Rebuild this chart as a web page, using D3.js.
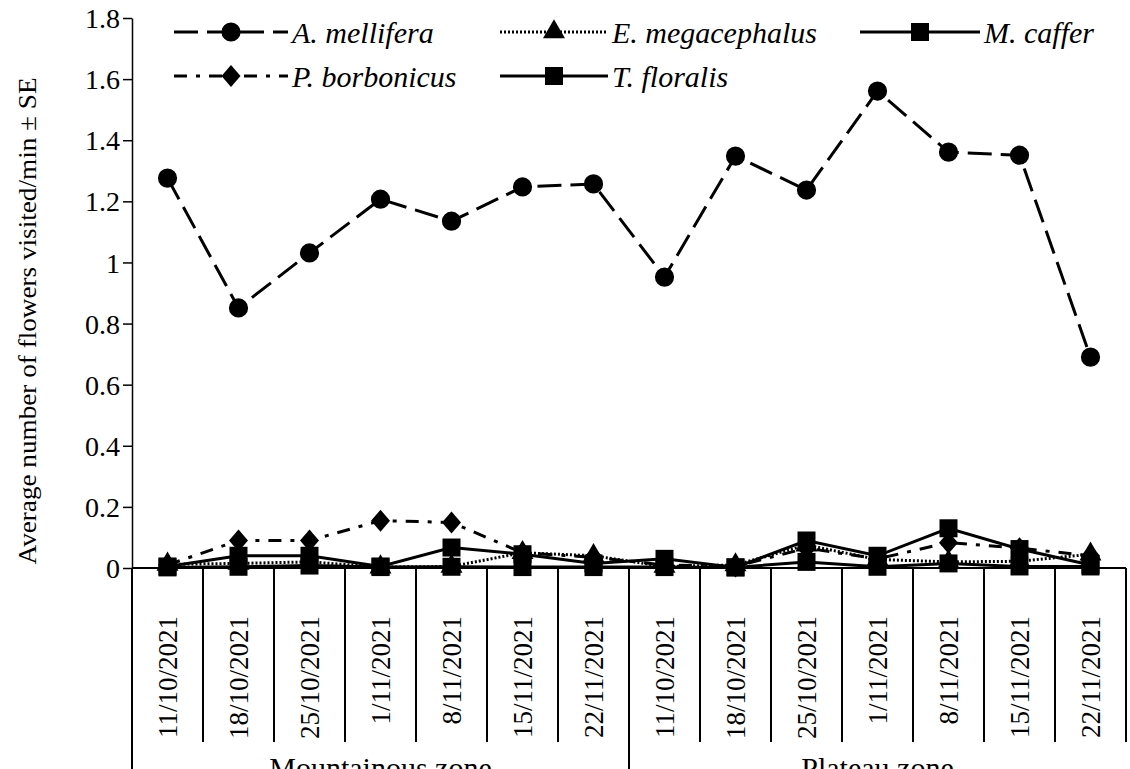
<!DOCTYPE html>
<html>
<head>
<meta charset="utf-8">
<script src="https://cdn.jsdelivr.net/npm/d3@7"></script>
</head>
<body style="margin:0">
<script>
const width = 1130;
const height = 769;
const fontName = "'Liberation Serif', Tinos, serif";

// data
const zones = ["Mountainous zone", "Plateau zone"];
const dates = ["11/10/2021", "18/10/2021", "25/10/2021", "1/11/2021", "8/11/2021", "15/11/2021", "22/11/2021"];
const yTicks = [0, 0.2, 0.4, 0.6, 0.8, 1, 1.2, 1.4, 1.6, 1.8];

const mellifera    = [1.276, 0.851, 1.031, 1.207, 1.135, 1.247, 1.257, 0.952, 1.348, 1.237, 1.561, 1.361, 1.351, 0.690];
const megacephalus = [0.012, 0.015, 0.020, 0.003, 0.005, 0.050, 0.040, 0.005, 0.010, 0.075, 0.028, 0.020, 0.022, 0.045];
const caffer       = [0.002, 0.004, 0.008, 0.003, 0.004, 0.003, 0.003, 0.003, 0.002, 0.020, 0.004, 0.015, 0.005, 0.005];
const borbonicus   = [0.010, 0.090, 0.090, 0.155, 0.149, 0.050, 0.035, 0.010, 0.005, 0.065, 0.030, 0.083, 0.065, 0.040];
const floralis     = [0.005, 0.040, 0.040, 0.005, 0.067, 0.045, 0.015, 0.030, 0.002, 0.090, 0.040, 0.130, 0.062, 0.010];

const speciesNames = ["A. mellifera", "E. megacephalus", "M. caffer", "P. borbonicus", "T. floralis"];

const margin = { top: 18, left: 132, right: 4, bottom: 201 };

// one category per zone/date pair
const cats = [];
zones.forEach((z, zi) => dates.forEach((d, di) => cats.push({ key: zi + "-" + di, zone: z, date: d })));

const series = [
    { name: speciesNames[0], values: mellifera, dash: "24,9", symbol: "circle" },
    { name: speciesNames[1], values: megacephalus, dash: "2,2", symbol: "triangle" },
    { name: speciesNames[2], values: caffer, dash: null, symbol: "square" },
    { name: speciesNames[3], values: borbonicus, dash: "13,9,4,9", symbol: "diamond" },
    { name: speciesNames[4], values: floralis, dash: null, symbol: "square" }
];

const svg = d3.select("body").append("svg")
    .attr("width", width)
    .attr("height", height)
    .style("font-family", fontName);

const xScale = d3.scaleBand()
    .domain(cats.map(d => d.key))
    .range([margin.left, width - margin.right])
    .padding(0);

const yScale = d3.scaleLinear()
    .domain([0, 1.8])
    .range([height - margin.bottom, margin.top]);

const y0 = yScale(0);
const bw = xScale.bandwidth();

// marker shapes
function symbolPath(kind) {
    if (kind === "circle") return d3.symbol(d3.symbolCircle, 290)();
    if (kind === "square") return d3.symbol(d3.symbolSquare, 324)();
    if (kind === "triangle") return d3.symbol(d3.symbolTriangle, 210)();
    return "M0,-11L9.5,0L0,11L-9.5,0Z"; // diamond
}

// y axis, built by d3 but labels written as plain text
const yAxis = d3.axisLeft(yScale)
    .tickValues(yTicks)
    .tickSize(9)
    .tickSizeOuter(0)
    .tickFormat("");

const gy = svg.append("g")
    .attr("class", "y-axis")
    .attr("transform", `translate(${margin.left},0)`)
    .call(yAxis);
gy.select(".domain").attr("stroke", "#000").attr("stroke-width", 1.5);
gy.selectAll(".tick line").attr("stroke", "#000").attr("stroke-width", 1.5);

svg.selectAll("text.ytick")
    .data(yTicks)
    .join("text")
    .attr("class", "ytick")
    .attr("x", margin.left - 12)
    .attr("y", d => yScale(d))
    .attr("dy", "0.36em")
    .attr("text-anchor", "end")
    .style("font-family", fontName)
    .style("font-size", "28px")
    .text(d => String(+d.toFixed(1)));

svg.append("text")
    .attr("transform", `translate(36,${(margin.top + y0) / 2 + 28}) rotate(-90)`)
    .attr("text-anchor", "middle")
    .style("font-family", fontName)
    .style("font-size", "26px")
    .attr("textLength", 487)
    .attr("lengthAdjust", "spacingAndGlyphs")
    .text("Average number of flowers visited/min ± SE");

// category table below the x axis
const table = svg.append("g").attr("class", "x-table");

table.append("line")
    .attr("x1", margin.left).attr("x2", width - margin.right)
    .attr("y1", y0).attr("y2", y0)
    .attr("stroke", "#000").attr("stroke-width", 2);

const sepIdx = d3.range(cats.length + 1);
table.selectAll("line.sep")
    .data(sepIdx)
    .join("line")
    .attr("class", "sep")
    .attr("x1", i => i < cats.length ? xScale(cats[i].key) : xScale(cats[i - 1].key) + bw)
    .attr("x2", i => i < cats.length ? xScale(cats[i].key) : xScale(cats[i - 1].key) + bw)
    .attr("y1", y0)
    .attr("y2", i => (i % dates.length === 0 && i < cats.length) ? height : 742)
    .attr("stroke", "#000")
    .attr("stroke-width", 2);

table.selectAll("text.date")
    .data(cats)
    .join("text")
    .attr("class", "date")
    .attr("transform", d => `translate(${xScale(d.key) + bw / 2},616) rotate(-90)`)
    .attr("text-anchor", "end")
    .attr("dy", "0.36em")
    .style("font-family", fontName)
    .style("font-size", "27px")
    .text(d => d.date);

table.selectAll("text.zone")
    .data(zones)
    .join("text")
    .attr("class", "zone")
    .attr("x", (z, zi) => {
        const first = xScale(zi + "-0");
        const last = xScale(zi + "-" + (dates.length - 1)) + bw;
        return (first + last) / 2;
    })
    .attr("y", 778)
    .attr("text-anchor", "middle")
    .style("font-family", fontName)
    .style("font-size", "30px")
    .text(z => z);

// lines
const line = d3.line()
    .x((v, i) => xScale(cats[i].key) + bw / 2)
    .y(v => yScale(v));

svg.selectAll("path.series")
    .data(series)
    .join("path")
    .attr("class", "series")
    .attr("fill", "none")
    .attr("stroke", "#000")
    .attr("stroke-width", 3)
    .attr("stroke-dasharray", d => d.dash)
    .attr("d", d => line(d.values));

// markers
series.forEach(s => {
    svg.append("g")
        .selectAll("path")
        .data(s.values)
        .join("path")
        .attr("transform", (v, i) => `translate(${xScale(cats[i].key) + bw / 2},${yScale(v)})`)
        .attr("d", symbolPath(s.symbol))
        .attr("fill", "#000");
});

// legend
const legendPos = [
    { x1: 174, x2: 288, y: 32 },
    { x1: 500, x2: 608, y: 32 },
    { x1: 860, x2: 980, y: 32 },
    { x1: 174, x2: 288, y: 76 },
    { x1: 500, x2: 608, y: 76 }
];

const legend = svg.append("g").attr("class", "legend");
series.forEach((s, i) => {
    const p = legendPos[i];
    const g = legend.append("g");
    g.append("line")
        .attr("x1", p.x1).attr("x2", p.x2)
        .attr("y1", p.y).attr("y2", p.y)
        .attr("stroke", "#000")
        .attr("stroke-width", 3)
        .attr("stroke-dasharray", s.dash);
    g.append("path")
        .attr("transform", `translate(${(p.x1 + p.x2) / 2},${p.y})`)
        .attr("d", symbolPath(s.symbol))
        .attr("fill", "#000");
    g.append("text")
        .attr("x", p.x2 + 4)
        .attr("y", p.y + 11)
        .style("font-family", fontName)
        .style("font-size", "30px")
        .style("font-style", "italic")
        .text(s.name);
});
</script>
</body>
</html>
